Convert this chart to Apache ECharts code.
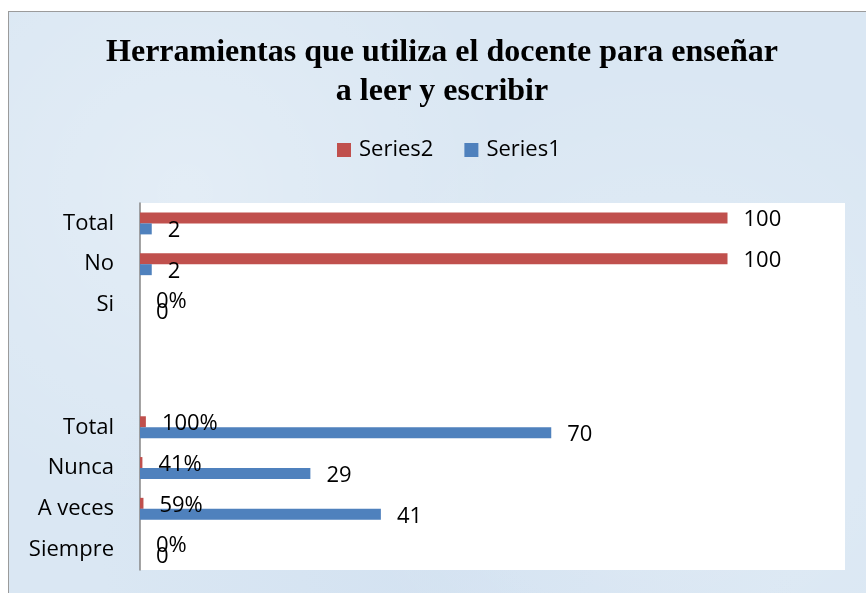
<!DOCTYPE html>
<html>
<head>
<meta charset="utf-8">
<script src="https://cdn.jsdelivr.net/npm/echarts@6/dist/echarts.min.js"></script>
<style>
  html, body { margin: 0; padding: 0; background: #fff; overflow: hidden; }
  #frame {
    position: absolute; left: 8px; top: 11px; width: 880px; height: 600px;
    border: 1px solid #9b9b9b;
    background-color: #dae7f3;
    background-image:
      radial-gradient(circle at 20% 30%, rgba(255,255,255,0.25), rgba(255,255,255,0) 40%),
      radial-gradient(circle at 75% 65%, rgba(255,255,255,0.2), rgba(255,255,255,0) 45%),
      radial-gradient(circle at 50% 90%, rgba(190,210,235,0.25), rgba(190,210,235,0) 50%);
  }
  /* corrido 9px para que el titulo quede centrado como en el original */
  #main { position: absolute; left: 9px; top: 0; width: 866px; height: 593px; }
</style>
</head>
<body>
<div id="frame"></div>
<div id="main"></div>
<script>
// categorias de abajo hacia arriba (como en Excel)
var categories = ["Siempre", "A veces", "Nunca", "Total", "", "", "Si", "No", "Total"];
// Series1 (azul)
var series1 = [0, 41, 29, 70, null, null, 0, 2, 2];
var series1Labels = ["0", "41", "29", "70", "", "", "0", "2", "2"];
// Series2 (rojo)
var series2 = [0, 0.59, 0.41, 1, null, null, 0, 100, 100];
var series2Labels = ["0%", "59%", "41%", "100%", "", "", "0%", "100", "100"];

var labelFont = "'Open Sans', sans-serif";

var myChart = echarts.init(document.getElementById("main"));
myChart.setOption({
  backgroundColor: "transparent",
  animation: false,
  title: {
    text: "Herramientas que utiliza el docente para enseñar\na leer y escribir",
    left: "center",
    top: 28,
    textStyle: {
      fontFamily: "'Liberation Serif', 'Times New Roman', serif",
      fontWeight: "bold",
      fontSize: 32,
      lineHeight: 39,
      color: "#000"
    }
  },
  legend: {
    data: ["Series2", "Series1"],
    left: 323,
    top: 134,
    itemWidth: 14,
    itemHeight: 14,
    itemGap: 31,
    icon: "rect",
    textStyle: {
      fontFamily: labelFont,
      fontSize: 22,
      color: "#000",
      padding: [0, 0, 0, 3]
    }
  },
  grid: {
    left: 131,
    top: 203,
    width: 705,
    height: 367,
    show: true,
    backgroundColor: "#ffffff",
    borderWidth: 0
  },
  xAxis: {
    type: "value",
    min: 0,
    max: 120,
    show: false,
    splitLine: { show: false }
  },
  yAxis: {
    type: "category",
    data: categories,
    axisTick: { show: false },
    axisLine: {
      lineStyle: { color: "#868686", width: 1.5 }
    },
    axisLabel: {
      margin: 26,
      fontFamily: labelFont,
      fontSize: 22,
      color: "#000"
    }
  },
  series: [
    {
      name: "Series2",
      type: "bar",
      data: series2,
      barWidth: 11,
      barGap: "0%",
      itemStyle: { color: "#C0504D" },
      label: {
        show: true,
        position: "right",
        distance: 16,
        offset: [0, 2],
        fontFamily: labelFont,
        fontSize: 22,
        color: "#000",
        formatter: function (p) { return series2Labels[p.dataIndex]; }
      }
    },
    {
      name: "Series1",
      type: "bar",
      data: series1,
      barWidth: 11,
      barGap: "0%",
      itemStyle: { color: "#4F81BD" },
      label: {
        show: true,
        position: "right",
        distance: 16,
        offset: [0, 2],
        fontFamily: labelFont,
        fontSize: 22,
        color: "#000",
        formatter: function (p) { return series1Labels[p.dataIndex]; }
      }
    }
  ]
});
</script>
</body>
</html>
